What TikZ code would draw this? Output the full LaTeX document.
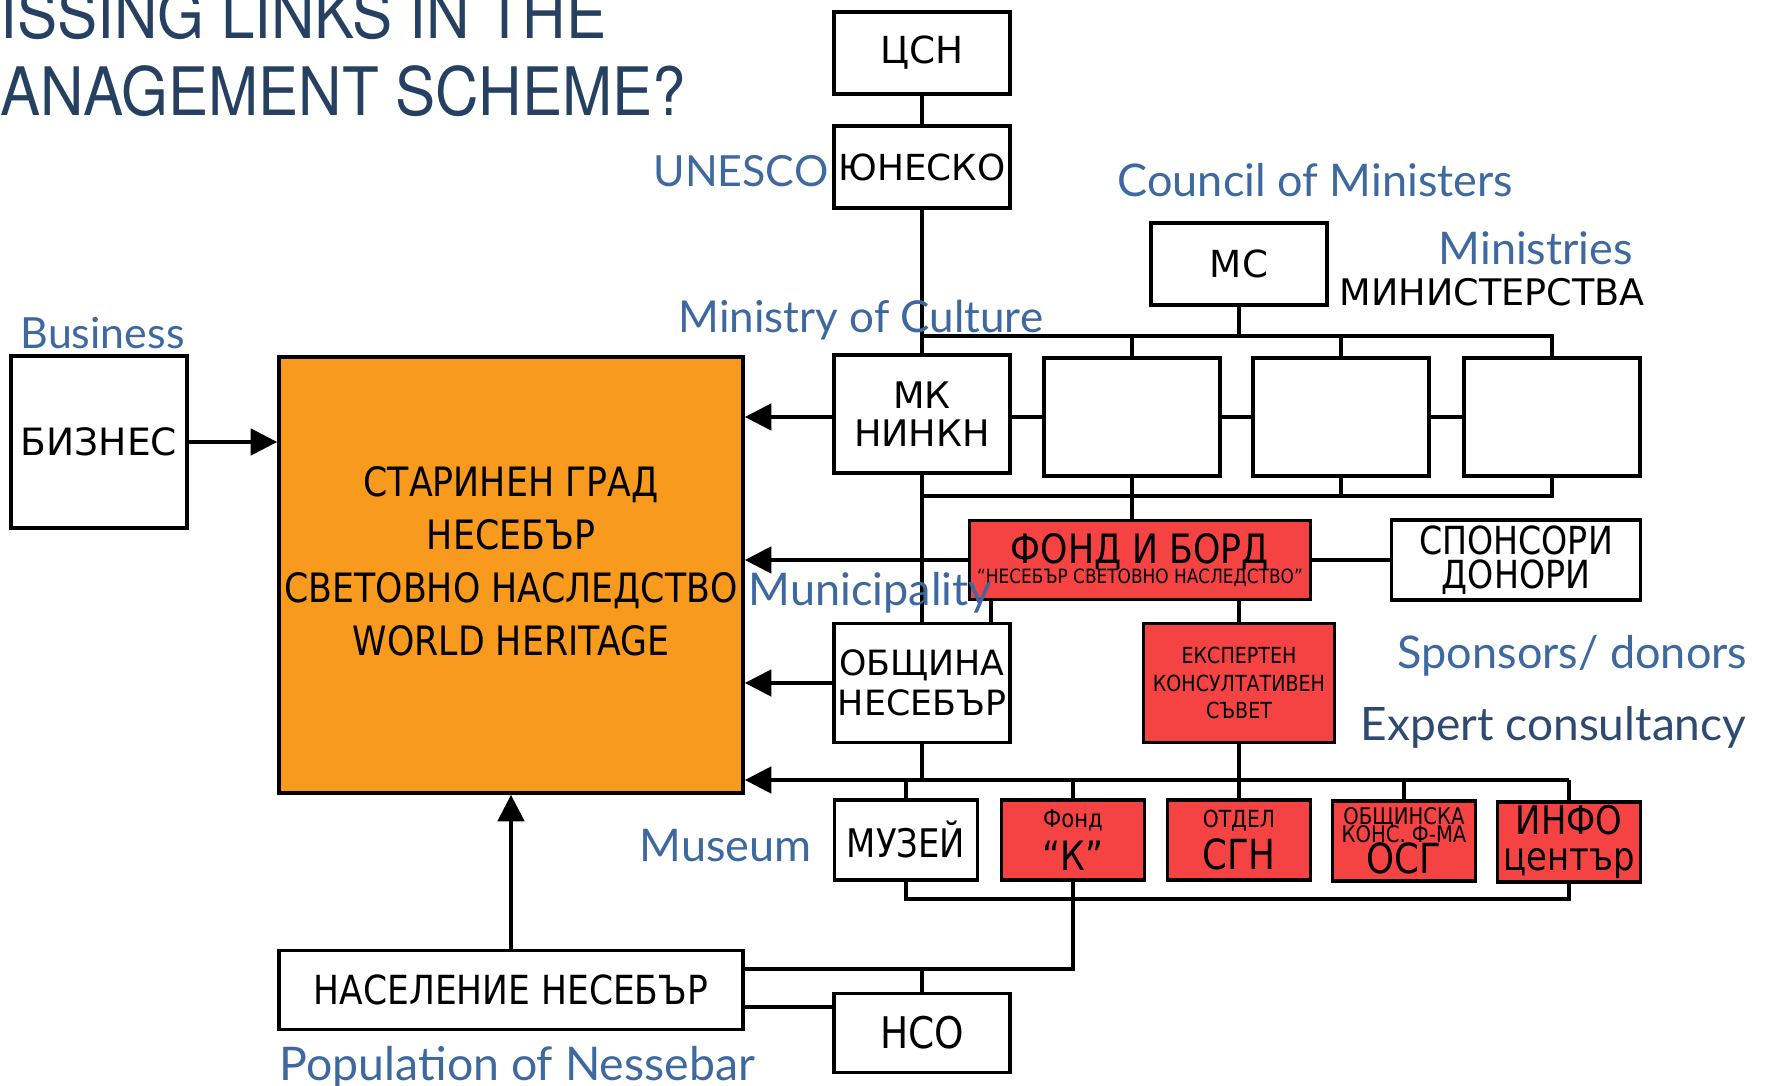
\documentclass[tikz,border=0pt]{standalone}
\usepackage{fontspec}
\setmainfont{DejaVu Sans}
\newfontfamily\condfont{DejaVu Sans}[FakeStretch=0.86]
\newfontfamily\titlefont{TeX Gyre Heros}[FakeStretch=0.9]
\newfontfamily\engfont{Lato}
\usetikzlibrary{arrows.meta}
\definecolor{cityorange}{RGB}{247,154,29}
\definecolor{boardred}{RGB}{245,66,66}
\definecolor{engblue}{RGB}{62,104,160}
\definecolor{engdark}{RGB}{46,74,114}
\definecolor{titlenavy}{RGB}{37,64,97}
\tikzset{orgbox/.style={draw=black, line width=1pt, fill=white, inner sep=0pt, align=center, minimum width=1.76cm, minimum height=0.82cm, font=\fontsize{10.2}{11}\selectfont},
  redorg/.style={orgbox, fill=boardred},
  englabel/.style={text=engblue, inner sep=0pt, font=\engfont\fontsize{12.8}{14}\selectfont},
  wire/.style={line width=1pt},
  feedarrow/.style={line width=1pt, -{Triangle[length=7.5pt,width=7.5pt]}}}

\begin{document}
\begin{tikzpicture}[x=0.01cm, y=-0.01cm]
	\useasboundingbox (0,0) rectangle (1769,1086);
	%Titel
	\node[anchor=base west, inner sep=0pt, text=titlenavy, font=\titlefont\fontsize{19}{20}\selectfont] (title1) at (0,39) {ISSING LINKS IN THE};
	\node[anchor=base west, inner sep=0pt, text=titlenavy, font=\titlefont\fontsize{19}{20}\selectfont] (title2) at (0,116) {ANAGEMENT SCHEME?};
	%Kaesten oben
	\node[orgbox, font=\fontsize{10.6}{11}\selectfont] (csn) at (922,53) {ЦСН};
	\node[orgbox] (unesco) at (922,167) {ЮНЕСКО};
	\node[orgbox, font=\fontsize{10.6}{11}\selectfont] (ms) at (1239,264) {МС};
	\node[orgbox, minimum height=1.18cm, font=\fontsize{10.4}{10.8}\selectfont] (mk) at (922,414) {МК\\НИНКН};
	\foreach \i/\x in {1/1132,2/1341,3/1552}
		\node[orgbox, minimum height=1.18cm] (min\i) at (\x,417) {};
	%Stadt
	\node[orgbox, minimum height=1.72cm, font=\fontsize{10.7}{11}\selectfont] (biz) at (99,442) {БИЗНЕС};
	\node[orgbox, fill=cityorange, minimum width=4.64cm, minimum height=4.36cm] (city) at (511,575) {};
	\node[align=center, inner sep=0pt, font=\condfont\fontsize{11.5}{15.1}\selectfont] (citytext) at (511,561) {СТАРИНЕН ГРАД\\НЕСЕБЪР\\СВЕТОВНО НАСЛЕДСТВО\\WORLD HERITAGE};
	%Fond
	\node[redorg, minimum width=3.41cm, minimum height=0.79cm] (fond) at (1140,560) {\condfont\fontsize{11.5}{8}\selectfont ФОНД И БОРД\\[-5.2pt]\condfont\fontsize{5.6}{6}\selectfont “НЕСЕБЪР СВЕТОВНО НАСЛЕДСТВО”};
	\node[orgbox, minimum width=2.49cm, minimum height=0.8cm, font=\condfont\fontsize{11}{9.6}\selectfont] (spons) at (1516,560) {СПОНСОРИ\\ДОНОРИ};
	\node[orgbox, minimum height=1.19cm, font=\fontsize{9.9}{11.4}\selectfont] (obshtina) at (922,683) {ОБЩИНА\\НЕСЕБЪР};
	\node[redorg, minimum width=1.91cm, minimum height=1.19cm, font=\condfont\fontsize{6.3}{7.7}\selectfont] (expert) at (1239,683) {ЕКСПЕРТЕН\\КОНСУЛТАТИВЕН\\СЪВЕТ};
	%Kaesten unten
	\node[orgbox, minimum width=1.43cm, minimum height=0.8cm, font=\condfont\fontsize{11.2}{12}\selectfont] (muzei) at (906,840) {МУЗЕЙ};
	\node[redorg, minimum width=1.43cm, minimum height=0.8cm] (fondk) at (1073,840) {\condfont\fontsize{7}{7}\selectfont Фонд\\[1pt]\condfont\fontsize{11.5}{10}\selectfont “К”};
	\node[redorg, minimum width=1.43cm, minimum height=0.8cm] (otdel) at (1239,840) {\condfont\fontsize{6.7}{7}\selectfont ОТДЕЛ\\[1pt]\condfont\fontsize{11.8}{10}\selectfont СГН};
	\node[redorg, minimum width=1.43cm, minimum height=0.8cm, font=\condfont\fontsize{6.5}{5.4}\selectfont] (osg) at (1404,841) {ОБЩИНСКА\\[-1.6pt]КОНС. Ф-МА\\[-1pt]\condfont\fontsize{11.8}{9}\selectfont ОСГ};
	\node[redorg, minimum width=1.43cm, minimum height=0.8cm, font=\condfont\fontsize{11.2}{10.2}\selectfont] (info) at (1569,842) {ИНФО\\център};
	\node[orgbox, minimum width=4.64cm, minimum height=0.79cm, font=\condfont\fontsize{11.4}{12}\selectfont] (naselenie) at (511,990) {НАСЕЛЕНИЕ НЕСЕБЪР};
	\node[orgbox, minimum height=0.79cm, font=\condfont\fontsize{12.4}{12}\selectfont] (nso) at (922,1033) {НСО};
	%Linien oben
	\draw[wire] (csn) -- (unesco);
	\draw[wire] (unesco) -- (mk);
	\coordinate (busA) at (922,336);
	\coordinate (busB) at (922,496);
	\draw[wire] (busA) -| (min3.north);
	\draw[wire] (ms) -- (ms |- busA);
	\draw[wire] (min1.north) -- (min1.north |- busA);
	\draw[wire] (min2.north) -- (min2.north |- busA);
	\draw[wire] (mk.east |- min1) -- (min1) -- (min2) -- (min3);
	\draw[wire] (busB) -| (min3.south);
	\draw[wire] (min2.south) -- (min2.south |- busB);
	\draw[wire] (min1.south) -- (min1.south |- fond.north);
	\draw[wire] (mk) -- (obshtina);
	%Pfeile zur Stadt
	\draw[feedarrow] (biz) -- (biz -| city.west);
	\draw[feedarrow] (mk.west |- min1) -- (min1 -| city.east);
	\draw[feedarrow] (fond) -- (fond -| city.east);
	\draw[feedarrow] (obshtina) -- (obshtina -| city.east);
	\draw[feedarrow] (naselenie) -- (city);
	%Fond
	\draw[wire] (fond) -- (spons);
	\path (fond.south) ++(-149,0) coordinate (ftap);
	\draw[wire] (ftap) -- (ftap |- obshtina.north);
	\draw[wire] (fond.south -| expert) -- (expert);
	%Linien unten
	\coordinate (busC) at (1569,780);
	\draw[feedarrow] (busC) -- (busC -| city.east);
	\draw[wire] (obshtina) -- (obshtina |- busC);
	\draw[wire] (expert) -- (otdel);
	\foreach \b in {muzei,fondk,osg,info}
		\draw[wire] (\b.north) -- (\b.north |- busC);
	\coordinate (busD) at (906,899);
	\draw[wire] (muzei) -- (busD) -| (info.south);
	\coordinate (kdrop) at (1073,969);
	\draw[wire] (fondk) -- (kdrop) -- (kdrop -| naselenie.east);
	\draw[wire] (nso) -- (nso |- kdrop);
	\coordinate (nsolink) at (834,1007);
	\draw[wire] (nsolink -| naselenie.east) -- (nsolink -| nso.west);
	%Beschriftung
	\node[englabel, anchor=east, font=\engfont\fontsize{12.2}{14}\selectfont] (unescolbl) at (829,171) {UNESCO};
	\node[englabel, anchor=west] (cmlbl) at (1117,180) {Council of Ministers};
	\node[englabel, anchor=west] (minlbl) at (1438,248) {Ministries};
	\node[anchor=west, inner sep=0pt, font=\fontsize{10.4}{11}\selectfont] (minbg) at (1339,292) {МИНИСТЕРСТВА};
	\node[englabel, anchor=west, font=\engfont\fontsize{12.5}{14}\selectfont] (mklbl) at (678,320) {Ministry of Culture};
	\node[englabel, anchor=west, font=\engfont\fontsize{12.2}{14}\selectfont] (bizlbl) at (20,333) {Business};
	\node[englabel, anchor=west] (munlbl) at (748,593) {Municipality};
	\node[englabel, anchor=west] (sponslbl) at (1397,656) {Sponsors/ donors};
	\node[englabel, anchor=west, text=engdark, font=\engfont\fontsize{13.1}{14}\selectfont] (explbl) at (1360,727) {Expert consultancy};
	\node[englabel, anchor=west] (muslbl) at (639,846) {Museum};
	\node[englabel, anchor=west, font=\engfont\fontsize{13.2}{14}\selectfont] (poplbl) at (279,1067) {Population of Nessebar};
\end{tikzpicture}
\end{document}
